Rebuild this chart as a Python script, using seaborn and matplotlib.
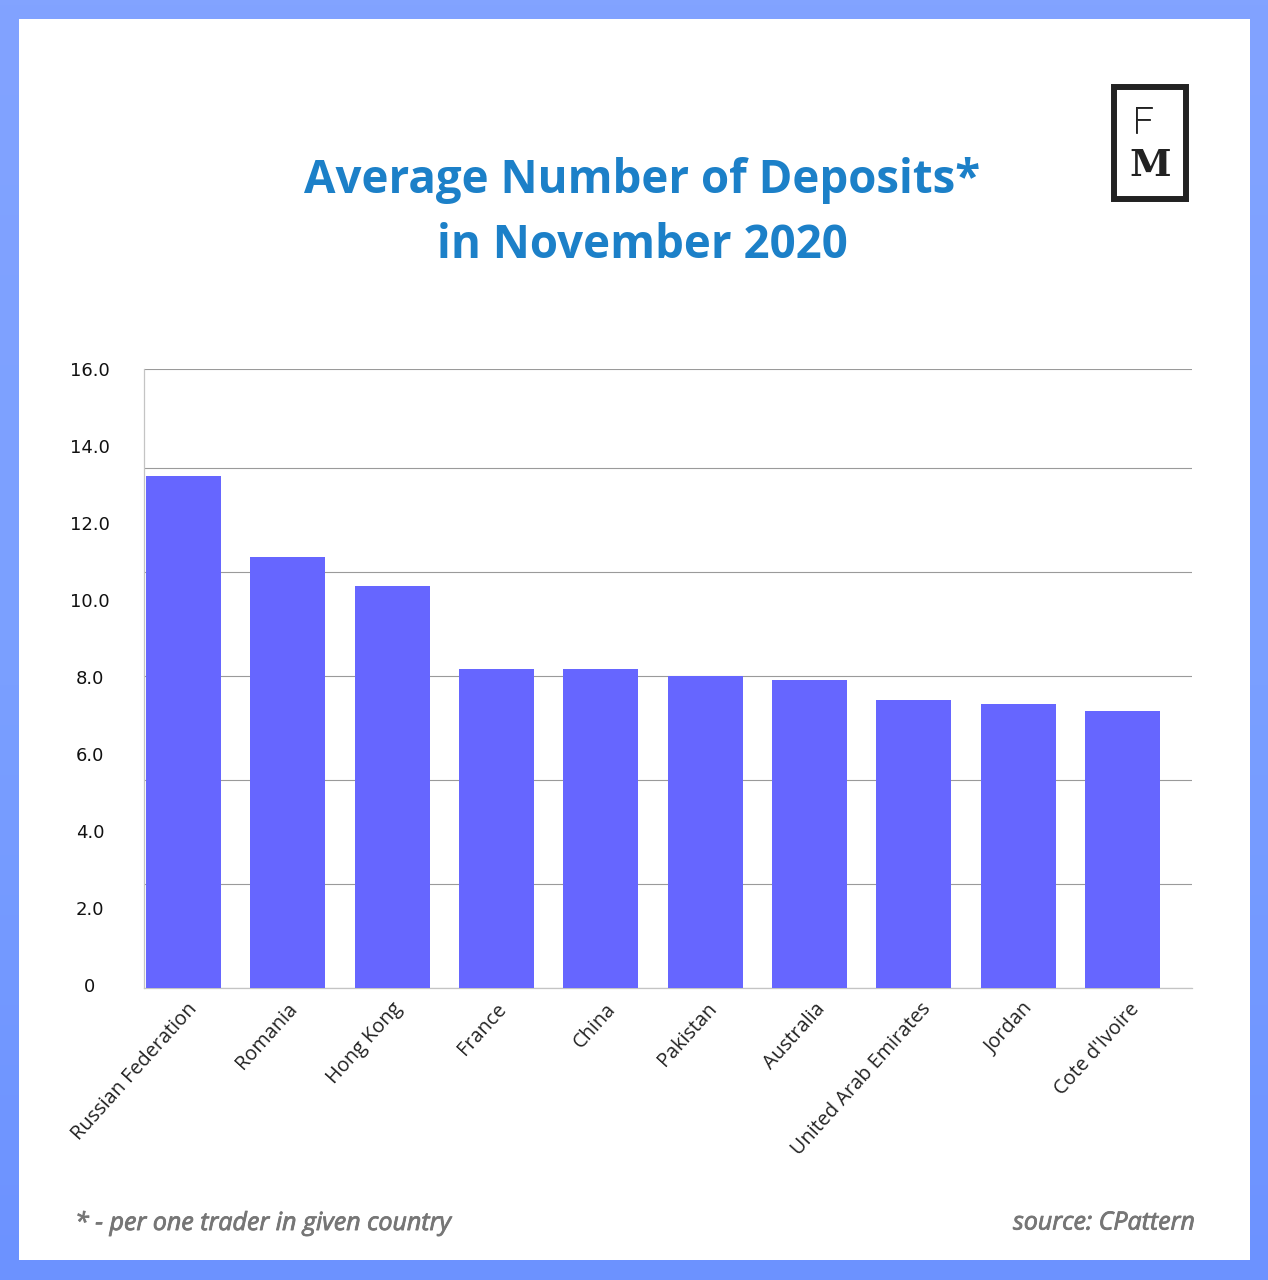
import numpy as np
import pandas as pd
import seaborn as sns
import matplotlib.pyplot as plt
import matplotlib.patheffects as pe
from matplotlib.patches import Rectangle
from matplotlib.colors import LinearSegmentedColormap
from matplotlib.transforms import ScaledTranslation

countries = ['Russian Federation', 'Romania', 'Hong Kong', 'France', 'China',
             'Pakistan', 'Australia', 'United Arab Emirates', 'Jordan', "Cote d'Ivoire"]
deposits = [13.23, 11.14, 10.39, 8.24, 8.24, 8.06, 7.96, 7.44, 7.34, 7.16]
ytick_values = [0, 2, 4, 6, 8, 10, 12, 14, 16]
ytick_labels = ['0', '2.0', '4.0', '6.0', '8.0', '10.0', '12.0', '14.0', '16.0']
# the gridlines in the source do not line up with the labels
grid_values = [0, 2.69, 5.375, 8.06, 10.75, 13.44, 16]

W, H = 1268, 1280

sns.set_theme(style='white')
plt.rcParams['font.family'] = ['Open Sans', 'DejaVu Sans']

fig = plt.figure(figsize=(W / 100, H / 100), dpi=100)


def px(x, y):
    return x / W, 1 - y / H


# blue frame with a soft vertical gradient
bg = fig.add_axes([0, 0, 1, 1], zorder=0)
frame_cmap = LinearSegmentedColormap.from_list('frame', ['#82a3ff', '#7ba0ff', '#6c92ff'])
bg.imshow(np.linspace(0, 1, 256).reshape(-1, 1), aspect='auto', cmap=frame_cmap, extent=[0, W, H, 0])
bg.add_patch(Rectangle((19, 19), 1231, 1241, color='white', lw=0))
bg.add_patch(Rectangle((1114, 87), 72, 112, fill=False, ec='#222222', lw=4.3))
bg.set_xlim(0, W)
bg.set_ylim(H, 0)
bg.axis('off')

# plot area
left, right, top, bottom = 144, 1192, 369, 988
ax = fig.add_axes([left / W, 1 - bottom / H, (right - left) / W, (bottom - top) / H], zorder=1)
ax.patch.set_alpha(0)

df = pd.DataFrame({'country': countries, 'deposits': deposits})
sns.barplot(data=df, x='country', y='deposits', color='#6666ff', saturation=1, width=0.72,
            linewidth=0, ax=ax, zorder=3)

ax.set_xlim(-0.379, 9.667)
ax.set_ylim(0, 16)
ax.set_xlabel('')
ax.set_ylabel('')

# grid on the major ticks, labels on the minor ones
ax.yaxis.remove_overlapping_locs = False
ax.set_yticks(grid_values)
ax.set_yticklabels([])
label_pos = [v + 0.09 * (1 - v / 16) for v in ytick_values]
ax.set_yticks(label_pos, minor=True)
ax.set_yticklabels(ytick_labels, minor=True, fontfamily='DejaVu Sans', fontsize=13,
                   color='#111111', ha='center')
ax.grid(True, axis='y', which='major', color='#9a9a9a', lw=0.8)
ax.grid(False, axis='y', which='minor')
ax.tick_params(axis='y', which='both', length=0)
ax.tick_params(axis='y', which='minor', pad=39)
ax.tick_params(axis='x', length=0, pad=8)
ax.set_xticks(range(len(countries)))
ax.set_xticklabels(countries, rotation=48, ha='right', rotation_mode='anchor',
                   fontsize=14.3, color='#222222')
# labels sit unevenly under the bars in the source
label_shift = [3, -1, -1, -1, 4, 1, 5, 6, 4, 6]
for lab, dx in zip(ax.get_xticklabels(), label_shift):
    lab.set_transform(lab.get_transform() + ScaledTranslation(dx / 100, 0, fig.dpi_scale_trans))

for side in ['top', 'right']:
    ax.spines[side].set_visible(False)
for side in ['left', 'bottom']:
    ax.spines[side].set_color('#c4c4c4')
    ax.spines[side].set_linewidth(0.9)

# title, footer, logo letters
x, y = px(642, 181)
fig.text(x, y, 'Average Number of Deposits*', ha='center', va='center',
         fontsize=32.9, fontweight='bold', color='#1c80c8')
x, y = px(642, 246)
fig.text(x, y, 'in November 2020', ha='center', va='center',
         fontsize=32.9, fontweight='bold', color='#1c80c8')

# regular italic with a thin outline, the semibold file comes out condensed
footer_stroke = [pe.withStroke(linewidth=0.6, foreground='#767676')]
x, y = px(75, 1223)
fig.text(x, y, '* - per one trader in given country', ha='left', va='center',
         fontsize=18, style='italic', fontweight='medium', color='#767676',
         path_effects=footer_stroke)
x, y = px(1195, 1223)
fig.text(x, y, 'source: CPattern', ha='right', va='center',
         fontsize=18, style='italic', fontweight='medium', color='#767676',
         path_effects=footer_stroke)

x, y = px(1143, 123)
fig.text(x, y, 'F', ha='center', va='center', fontsize=26, fontfamily='Roboto',
         fontweight='light', color='#222222',
         path_effects=[pe.withStroke(linewidth=0.6, foreground='#222222')])
x, y = px(1150, 165)
fig.text(x, y, 'M', ha='center', va='center', fontsize=27, fontfamily='DejaVu Serif',
         fontweight='bold', color='#222222')

fig.savefig('out.png', dpi=100)
